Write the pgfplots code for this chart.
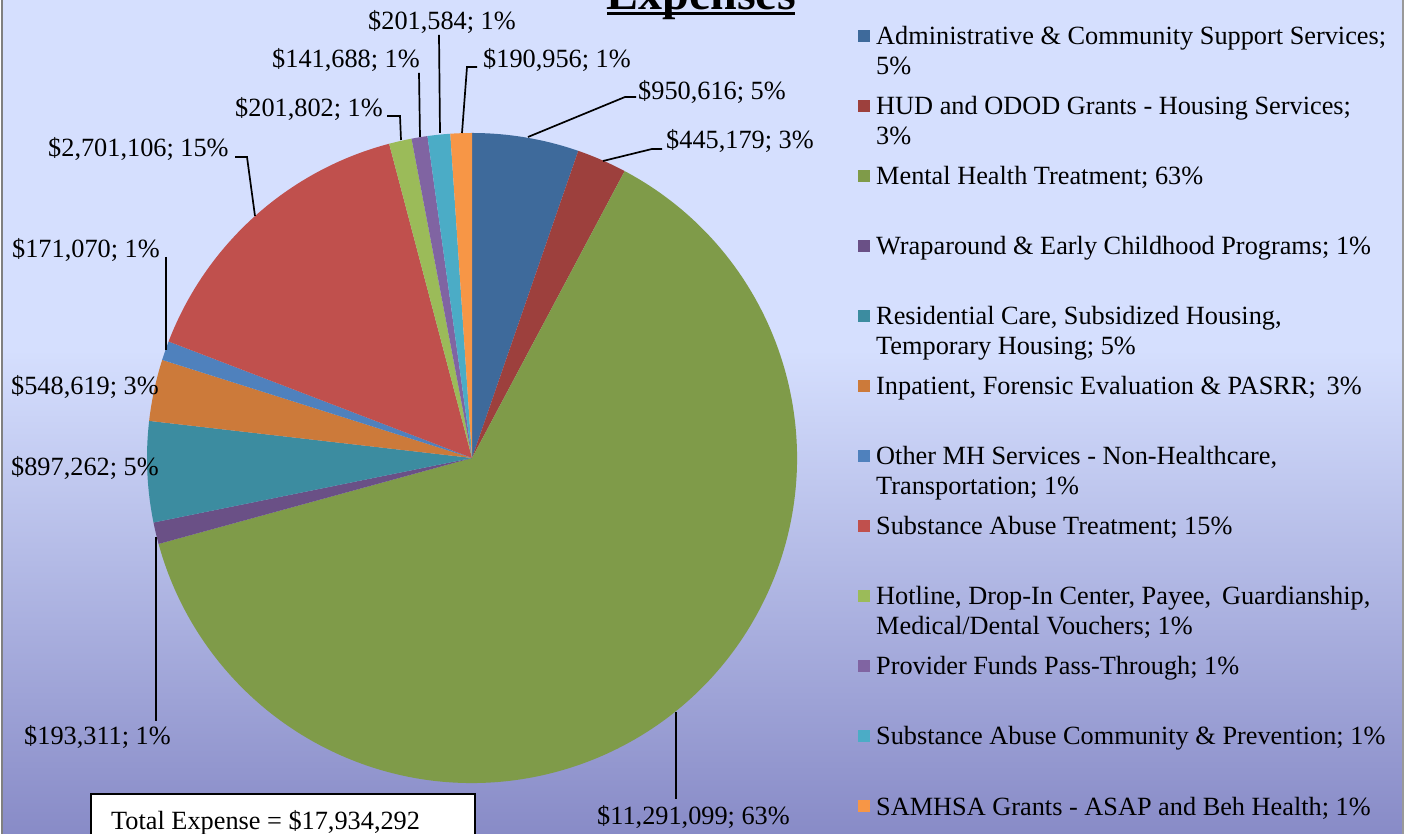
\documentclass[border=0pt]{standalone}
\usepackage{pgfplots}
\pgfplotsset{compat=1.18}
\usepackage{pgfplotstable}
\usepackage{fontspec}
\setmainfont{Liberation Serif}

% slice colours, clockwise from 12 o'clock
\definecolor{s0}{RGB}{62,106,155}
\definecolor{s1}{RGB}{157,64,61}
\definecolor{s2}{RGB}{127,155,73}
\definecolor{s3}{RGB}{106,80,134}
\definecolor{s4}{RGB}{60,140,160}
\definecolor{s5}{RGB}{204,122,58}
\definecolor{s6}{RGB}{79,129,189}
\definecolor{s7}{RGB}{192,80,77}
\definecolor{s8}{RGB}{155,187,89}
\definecolor{s9}{RGB}{128,100,162}
\definecolor{s10}{RGB}{75,172,198}
\definecolor{s11}{RGB}{247,150,70}
\definecolor{bgtop}{RGB}{213,223,254}
\definecolor{bgbot}{RGB}{136,139,199}

\pgfplotstableread{
id value
1 950616
2 445179
3 11291099
4 193311
5 897262
6 548619
7 171070
8 2701106
9 201802
10 141688
11 201584
12 190956
}\expenses

%% start/end angles of each slice (l3fp, the sums are large)
\def\total{0}
\pgfplotsforeachungrouped \i in {0,...,11}{%
  \pgfplotstablegetelem{\i}{value}\of\expenses
  \xdef\total{\fpeval{\total+\pgfplotsretval}}}
\def\cum{0}
\pgfplotsforeachungrouped \i in {0,...,11}{%
  \pgfplotstablegetelem{\i}{value}\of\expenses
  \expandafter\xdef\csname sa\i\endcsname{\fpeval{round(90-360*\cum/\total,4)}}%
  \xdef\cum{\fpeval{\cum+\pgfplotsretval}}%
  \expandafter\xdef\csname ea\i\endcsname{\fpeval{round(90-360*\cum/\total,4)}}}

\tikzset{
  lab/.style={font=\fontsize{26.3bp}{30bp}\selectfont, inner sep=0pt, anchor=base west},
  lead/.style={draw=black, line width=1.7bp},
}

\begin{document}
\begin{tikzpicture}
\begin{axis}[
  width=1408bp, height=834bp, scale only axis,
  xmin=0, xmax=1408, ymin=0, ymax=834,
  hide axis, clip=false,
]
% background
\fill[white] (0,0) rectangle (1408,834);
\fill[bgtop] (2,484) rectangle (1403,834);
\shade[top color=bgtop, bottom color=bgbot] (2,0) rectangle (1403,484.5);
\draw[gray, line width=2bp] (1.5,-5) -- (1.5,840);
\draw[gray!80, line width=2bp] (1403,-5) -- (1403,840);

% pie
\pgfplotsinvokeforeach{0,...,11}{
  \fill[s#1] (472,376) -- ++(\csname sa#1\endcsname:325bp)
    arc[start angle=\csname sa#1\endcsname, end angle=\csname ea#1\endcsname, radius=325bp] -- cycle;
}

% title (cut off at the top)
\node[anchor=base, inner sep=0pt, font=\fontsize{48bp}{50bp}\selectfont\bfseries] at (701,824) {Expenses};
\draw[line width=3bp] (607,820) -- (795,820);

% leader lines
\draw[lead] (528,697) -- (625,737) -- (636,737);
\draw[lead] (603,673) -- (652,685) -- (662,685);
\draw[lead] (676,122) -- (676,35);
\draw[lead] (156,297) -- (156,113);
\draw[lead] (166,577) -- (166,484);
\draw[lead] (235,677) -- (247,677) -- (255,618);
\draw[lead] (387,718) -- (400,718) -- (401,694);
\draw[lead] (419,761) -- (420,697);
\draw[lead] (439,799) -- (440,701);
\draw[lead] (477,767) -- (467,767) -- (462,701);

% data labels
\node[lab] at (638,734) {\$950,616; 5\%};
\node[lab] at (666,685) {\$445,179; 3\%};
\node[lab] at (597,10) {\$11,291,099; 63\%};
\node[lab] at (24,89) {\$193,311; 1\%};
\node[lab] at (11,358) {\$897,262; 5\%};
\node[lab] at (11,439) {\$548,619; 3\%};
\node[lab] at (12,576) {\$171,070; 1\%};
\node[lab] at (48,677) {\$2,701,106; 15\%};
\node[lab] at (235,717) {\$201,802; 1\%};
\node[lab] at (272,766) {\$141,688; 1\%};
\node[lab] at (368,804) {\$201,584; 1\%};
\node[lab] at (483,766) {\$190,956; 1\%};

% legend
\pgfplotsinvokeforeach{0,...,11}{
  \fill[s#1] (858,{834-(45+70*#1)+3}) rectangle (870,{834-(45+70*#1)+15});
}
\node[lab] at (876,789) {Administrative \& Community Support Services;};
\node[lab] at (876,759) {5\%};
\node[lab] at (876,719) {HUD and ODOD Grants - Housing Services;};
\node[lab] at (876,689) {3\%};
\node[lab] at (876,649) {Mental Health Treatment; 63\%};
\node[lab] at (876,579) {Wraparound \& Early Childhood Programs; 1\%};
\node[lab] at (876,509) {Residential Care, Subsidized Housing,};
\node[lab] at (876,479) {Temporary Housing; 5\%};
\node[lab] at (876,439) {Inpatient, Forensic Evaluation \& PASRR;\, 3\%};
\node[lab] at (876,369) {Other MH Services - Non-Healthcare,};
\node[lab] at (876,339) {Transportation; 1\%};
\node[lab] at (876,299) {Substance Abuse Treatment; 15\%};
\node[lab] at (876,229) {Hotline, Drop-In Center, Payee,\, Guardianship,};
\node[lab] at (876,199) {Medical/Dental Vouchers; 1\%};
\node[lab] at (876,159) {Provider Funds Pass-Through; 1\%};
\node[lab] at (876,89) {Substance Abuse Community \& Prevention; 1\%};
\node[lab] at (876,19) {SAMHSA Grants - ASAP and Beh Health; 1\%};

% total box (cut off at the bottom)
\draw[fill=white, line width=1.5bp] (91,-10) rectangle (475,40);
\node[lab] at (111,5) {Total Expense = \$17,934,292};
\end{axis}
\pgfresetboundingbox
\useasboundingbox (0,0) rectangle (1408bp,834bp);
\end{tikzpicture}
\end{document}
